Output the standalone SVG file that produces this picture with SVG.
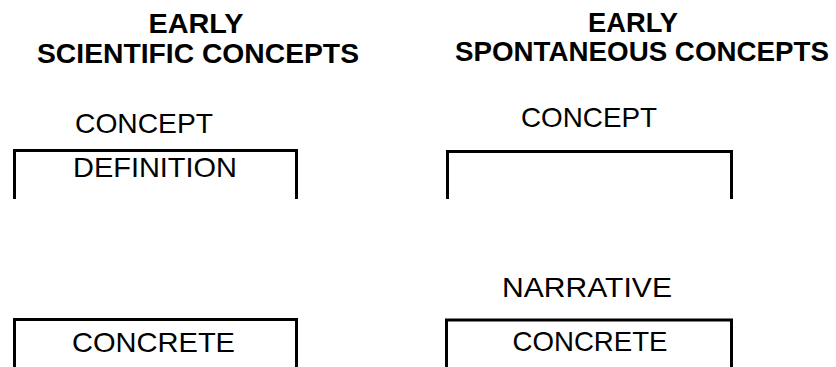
<svg xmlns="http://www.w3.org/2000/svg" width="836" height="367" viewBox="0 0 836 367">
<style>
text{font-family:"Liberation Sans",Arial,sans-serif;fill:#000;text-anchor:middle}
.h{font-size:28px;font-weight:bold}
.t{font-size:27.5px}
.br{fill:none;stroke:#000;stroke-width:3;stroke-linejoin:miter}
</style>
<rect width="836" height="367" fill="#fff"/>
<g id="heading-scientific">
<text class="h" x="196" y="33" textLength="95" lengthAdjust="spacingAndGlyphs">EARLY</text>
<text class="h" x="198" y="63" textLength="322" lengthAdjust="spacingAndGlyphs">SCIENTIFIC CONCEPTS</text>
</g>
<g id="heading-spontaneous">
<text class="h" x="633" y="32" textLength="90" lengthAdjust="spacingAndGlyphs">EARLY</text>
<text class="h" x="642" y="61" textLength="374" lengthAdjust="spacingAndGlyphs">SPONTANEOUS CONCEPTS</text>
</g>
<g id="sci-concept">
<text class="t" x="144" y="133" textLength="138" lengthAdjust="spacingAndGlyphs">CONCEPT</text>
<path class="br" d="M14.5,199 V150.5 H296.5 V199"/>
<text class="t" x="155" y="177" textLength="164" lengthAdjust="spacingAndGlyphs">DEFINITION</text>
</g>
<g id="spont-concept">
<text class="t" x="589" y="127" textLength="136" lengthAdjust="spacingAndGlyphs">CONCEPT</text>
<path class="br" d="M447.5,199 V151.5 H731.5 V199"/>
</g>
<g id="sci-concrete">
<path class="br" d="M14.5,368 V319.5 H296.5 V368"/>
<text class="t" x="153.5" y="352" textLength="163" lengthAdjust="spacingAndGlyphs">CONCRETE</text>
</g>
<g id="spont-concrete">
<text class="t" x="587" y="297" textLength="170" lengthAdjust="spacingAndGlyphs">NARRATIVE</text>
<path class="br" d="M446.5,368 V320 H731.5 V368"/>
<text class="t" x="590" y="351" textLength="155" lengthAdjust="spacingAndGlyphs">CONCRETE</text>
</g>
<g id="connectors"></g>
</svg>
